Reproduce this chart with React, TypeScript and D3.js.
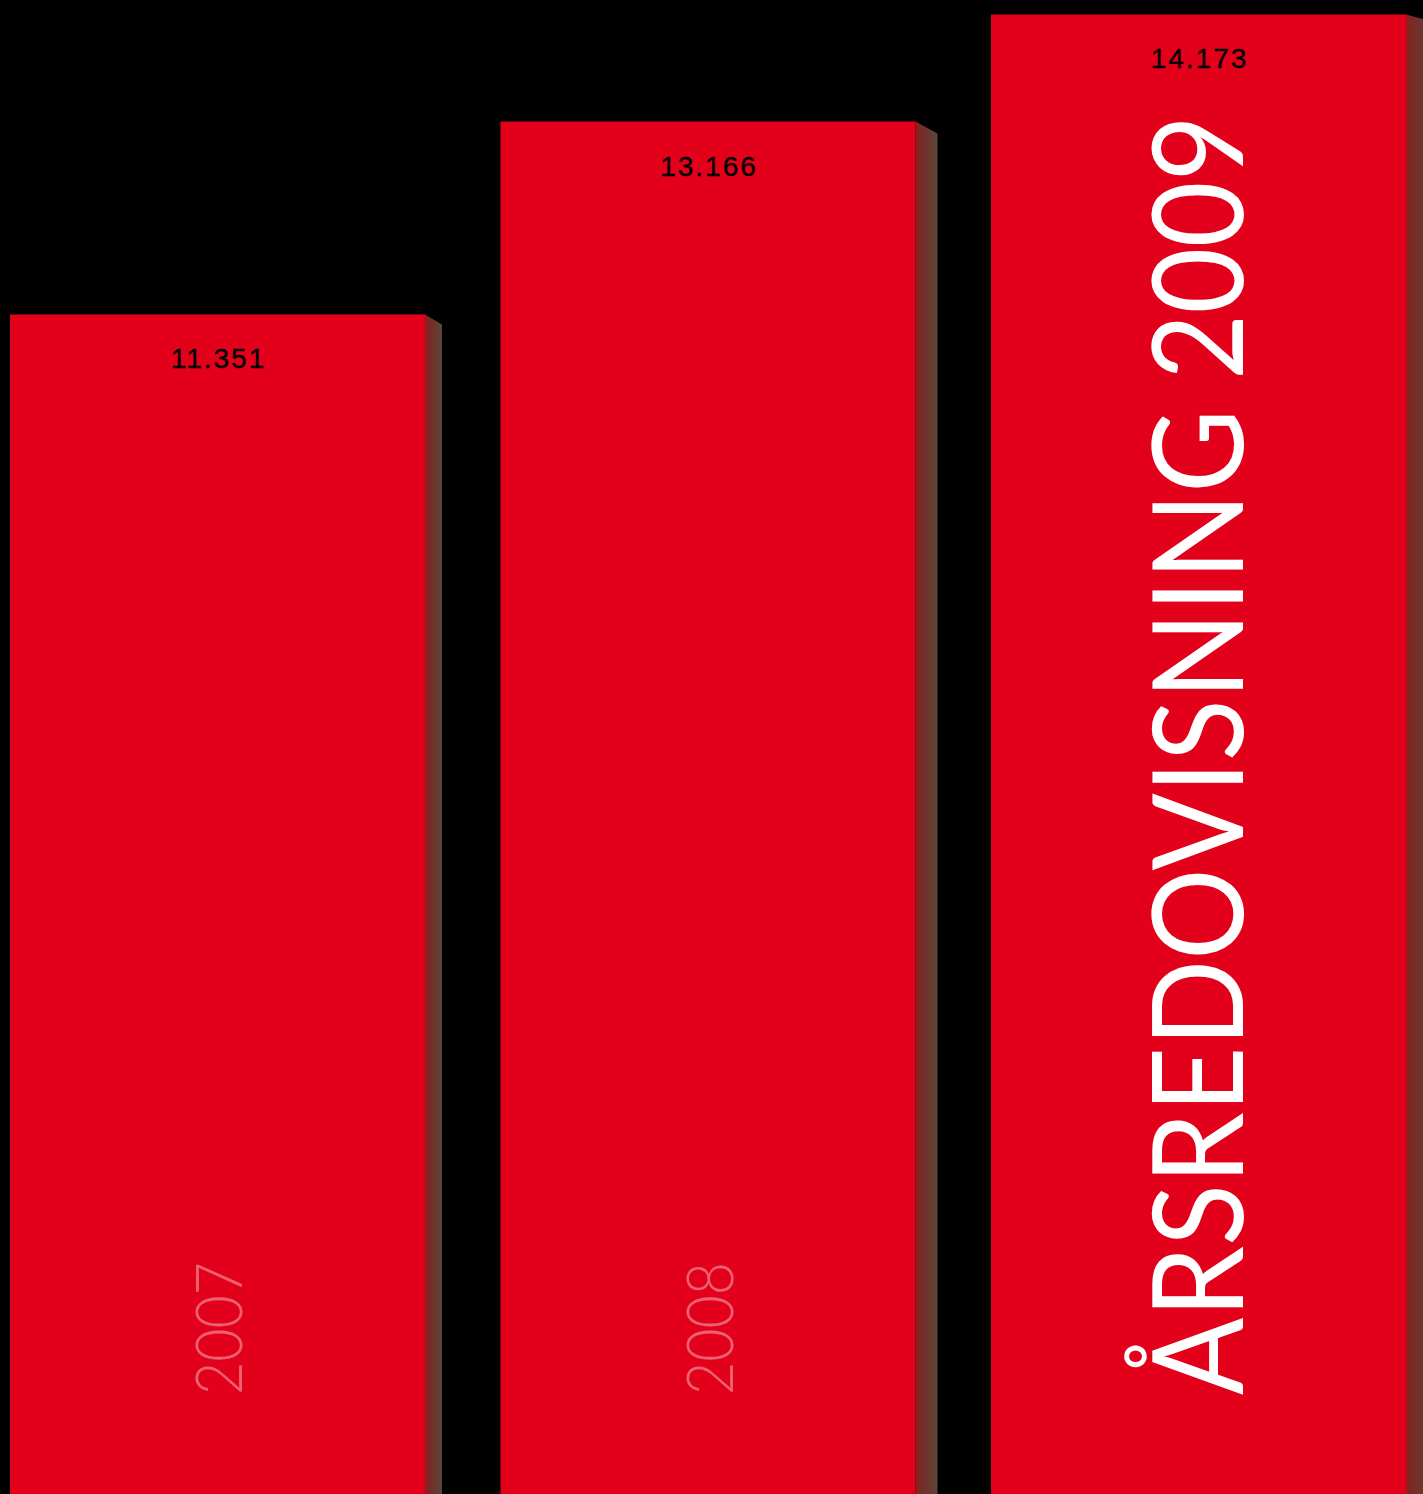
import React from "react";
import * as d3 from "d3";

const years = ["2007", "2008", "2009"];
const values = [11351, 13166, 14173];
const valueLabels = ["11.351", "13.166", "14.173"];
const yearLabels = ["2007", "2008", ""];
const title = "ÅRSREDOVISNING 2009";

const W = 1423;
const H = 1494;

export default function App() {
  const x = d3
    .scaleBand<string>()
    .domain(years)
    .range([10, 1406])
    .paddingInner(0.154)
    .paddingOuter(0);
  const y = d3.scaleLinear().domain([0, 14300]).range([1521, 1]);
  const bw = x.bandwidth();

  return (
    <div style={{ position: "absolute", left: 0, top: 0, width: W, height: H, overflow: "hidden", background: "#000" }}>
      <svg width={W} height={H} style={{ display: "block" }}>
        <defs>
          <linearGradient id="side" x1="0" x2="1" y1="0" y2="0">
            <stop offset="0" stopColor="#a0161b" />
            <stop offset="0.12" stopColor="#7f2621" />
            <stop offset="1" stopColor="#5a463b" />
          </linearGradient>
        </defs>
        <rect x={0} y={0} width={W} height={H} fill="#000" />
        {years.map((yr, i) => {
          const x0 = x(yr)!;
          const top = y(values[i]);
          const bottom = y(0);
          const depth = 17 + i * 5;
          const drop = [10, 12, 7][i];
          const xr = x0 + bw;
          const cx = x0 + bw / 2;
          return (
            <g key={yr}>
              <polygon
                points={`${xr},${top} ${xr + depth},${top + drop} ${xr + depth},${bottom} ${xr},${bottom}`}
                fill="url(#side)"
              />
              <rect x={x0} y={top} width={bw} height={bottom - top} fill="#e2001a" />
              <text
                x={cx + 1}
                y={top + 54}
                textAnchor="middle"
                fontFamily="Liberation Sans, Arial, sans-serif"
                fontSize={28}
                letterSpacing={2}
                stroke="#000"
                strokeWidth={0.3}
                fill="#000"
              >
                {valueLabels[i]}
              </text>
              {yearLabels[i] && (
                <text
                  transform={`translate(${cx + 25},1395) rotate(-90)`}
                  fontFamily="Lato, 'Liberation Sans', sans-serif"
                  fontWeight={300}
                  fontSize={66}
                  textLength={133}
                  lengthAdjust="spacingAndGlyphs"
                  fill="#ffffff"
                  fillOpacity={0.38}
                >
                  {yearLabels[i]}
                </text>
              )}
            </g>
          );
        })}
        <text
          transform={`translate(${x("2009")! + bw / 2 + 44},1395) rotate(-90)`}
          fontFamily="Lato, 'Liberation Sans', sans-serif"
          fontWeight={400}
          fontSize={126}
          textLength={1280}
          lengthAdjust="spacingAndGlyphs"
          fill="#ffffff"
        >
          {title}
        </text>
      </svg>
    </div>
  );
}
